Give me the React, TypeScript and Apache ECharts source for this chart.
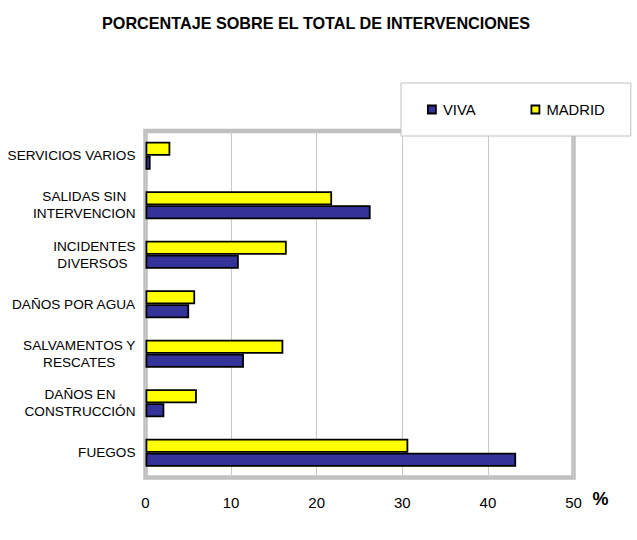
import React, { useEffect, useRef } from "react";
import * as echarts from "echarts";

const titleText = "PORCENTAJE SOBRE EL TOTAL DE INTERVENCIONES";
const categories = [
  "FUEGOS",
  "DAÑOS EN\nCONSTRUCCIÓN",
  "SALVAMENTOS Y\nRESCATES",
  "DAÑOS POR AGUA",
  "INCIDENTES\nDIVERSOS ",
  "SALIDAS SIN\nINTERVENCION",
  "SERVICIOS VARIOS",
];
const seriesNames = ["VIVA", "MADRID"];
const vivaValues = [43.3, 2.2, 11.5, 5.1, 10.9, 26.3, 0.6];
const madridValues = [30.7, 6.0, 16.1, 5.8, 16.5, 21.8, 2.9];
const xMin = 0;
const xMax = 50;
const xInterval = 10;
const unitLabel = "%";

const FONT = "'Liberation Sans', Arial, sans-serif";

export default function App() {
  const ref = useRef<HTMLDivElement>(null);
  useEffect(() => {
    if (!ref.current) return;
    const chart = echarts.init(ref.current, null, { renderer: "svg" });
    chart.setOption({
      animation: false,
      backgroundColor: "#ffffff",
      title: {
        text: titleText,
        left: 97,
        top: 10,
        textStyle: { fontFamily: FONT, fontWeight: "bold", fontSize: 16.2, color: "#000" },
      },
      legend: {
        data: seriesNames,
        left: 401,
        top: 83,
        orient: "horizontal",
        padding: [19, 26, 19, 26],
        itemGap: 55,
        itemWidth: 8,
        itemHeight: 8,
        icon: "rect",
        backgroundColor: "#ffffff",
        borderColor: "#c0c0c0",
        borderWidth: 1,
        itemStyle: { borderColor: "#000", borderWidth: 1.8 },
        textStyle: { fontFamily: FONT, fontSize: 14.8, color: "#000", padding: [0, 0, 0, 2] },
        z: 10,
      },
      grid: {
        left: 145.5,
        top: 131,
        width: 428,
        height: 346.5,
        show: true,
        borderColor: "#c0c0c0",
        borderWidth: 4.5,
        backgroundColor: "transparent",
        containLabel: false,
      },
      xAxis: {
        type: "value",
        min: xMin,
        max: xMax,
        interval: xInterval,
        name: unitLabel,
        nameLocation: "end",
        nameGap: 19,
        nameTextStyle: {
          fontFamily: FONT,
          fontWeight: "bold",
          fontSize: 18,
          color: "#000",
          verticalAlign: "top",
          lineHeight: 42,
        },
        axisLine: { show: false },
        axisTick: { show: false },
        axisLabel: { fontFamily: FONT, fontSize: 15, color: "#000", margin: 17 },
        splitLine: { show: true, lineStyle: { color: "#c8c8c8", width: 1 } },
      },
      yAxis: {
        type: "category",
        data: categories,
        axisLine: { show: false },
        axisTick: { show: false },
        splitLine: { show: false },
        axisLabel: {
          margin: 10,
          color: "#000",
          fontFamily: FONT,
          fontSize: 13.6,
          lineHeight: 17,
          formatter: (v: string) =>
            v
              .split("\n")
              .map((l) => `{c|${l}}`)
              .join("\n"),
          rich: {
            c: { align: "center", fontFamily: FONT, fontSize: 13.6, lineHeight: 17, color: "#000" },
          },
        },
      },
      series: [
        {
          name: seriesNames[1],
          type: "bar",
          data: madridValues,
          barWidth: 14,
          barGap: "0%",
          itemStyle: { color: "#ffff00", borderColor: "#000", borderWidth: 1.8 },
        },
        {
          name: seriesNames[0],
          type: "bar",
          data: vivaValues,
          barWidth: 14,
          barGap: "0%",
          itemStyle: { color: "#333399", borderColor: "#000", borderWidth: 1.8 },
        },
      ],
    });
    return () => chart.dispose();
  }, []);
  return (
    <div
      ref={ref}
      style={{ position: "fixed", left: 0, top: 0, width: 637, height: 540, background: "#fff" }}
    />
  );
}
